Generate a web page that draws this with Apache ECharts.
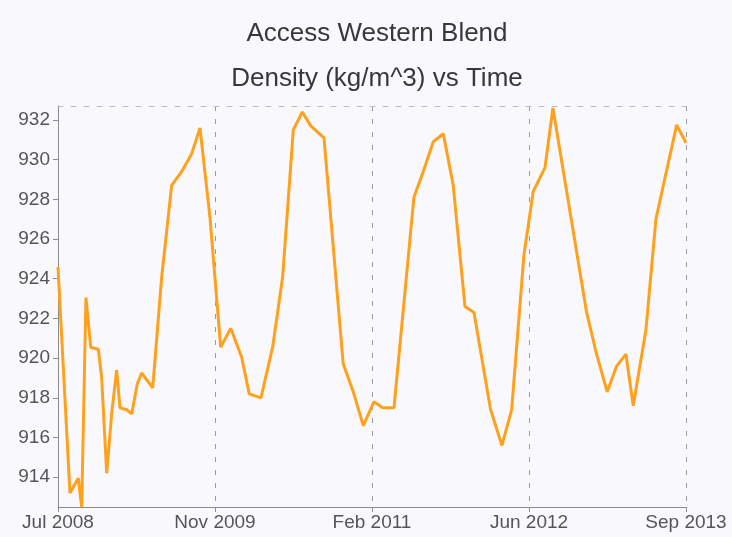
<!DOCTYPE html>
<html>
<head>
<meta charset="utf-8">
<script src="https://cdn.jsdelivr.net/npm/echarts@6/dist/echarts.min.js"></script>
<style>
html,body{margin:0;padding:0;background:#f9f9fd;}
#c{width:732px;height:537px;}
</style>
</head>
<body>
<div id="c"></div>
<script>
// Months elapsed since Jul 2008 (fractional: early samples are sub-monthly)
const monthsSinceJul2008 = [0.0, 1.18, 2.0, 2.34, 2.76, 3.23, 3.98, 4.31, 4.81, 5.3, 5.79, 6.12, 6.78, 7.28, 7.83, 8.26, 9.35, 10.24, 11.22, 12.21, 13.2, 14.02, 15.0, 16.06, 17.05, 18.13, 18.88, 20.04, 21.19, 22.18, 23.23, 24.12, 24.95, 26.26, 28.16, 29.15, 30.14, 31.19, 32.05, 33.17, 35.14, 36.06, 37.05, 38.04, 39.02, 40.18, 41.07, 42.71, 43.83, 44.79, 46.0, 46.92, 48.08, 48.86, 52.19, 53.17, 54.22, 55.15, 56.07, 56.79, 58.04, 59.03, 61.08, 62.0];
// Density (kg/m^3)
const density = [924.6, 913.2, 913.95, 912.5, 923.05, 920.55, 920.45, 919.0, 914.2, 917.2, 919.4, 917.5, 917.4, 917.2, 918.7, 919.25, 918.5, 924.1, 928.7, 929.4, 930.3, 931.6, 927.1, 920.55, 921.5, 920.05, 918.2, 918.0, 920.55, 924.1, 931.5, 932.4, 931.7, 931.1, 919.7, 918.3, 916.6, 917.8, 917.5, 917.5, 928.1, 929.4, 930.9, 931.3, 928.7, 922.6, 922.3, 917.4, 915.6, 917.4, 925.2, 928.4, 929.6, 932.6, 922.3, 920.2, 918.3, 919.6, 920.2, 917.6, 921.4, 927.0, 931.75, 930.85];
const xTickLabels = ['Jul 2008', 'Nov 2009', 'Feb 2011', 'Jun 2012', 'Sep 2013'];
const xTickStep = 15.5;
const yTicks = [914, 916, 918, 920, 922, 924, 926, 928, 930, 932];
const titleText = 'Access Western Blend';
const subtitleText = 'Density (kg/m^3) vs Time';

const FONT = '"Liberation Sans", Arial, Helvetica, sans-serif';
const chart = echarts.init(document.getElementById('c'), null, {renderer: 'canvas'});
const seriesData = monthsSinceJul2008.map((m, i) => [m, density[i]]);
const xMax = xTickStep * (xTickLabels.length - 1);

chart.setOption({
  animation: false,
  backgroundColor: '#f9f9fd',
  title: {
    text: titleText + '\n' + subtitleText,
    left: 372,
    top: 6,
    textAlign: 'center',
    textStyle: {fontFamily: FONT, fontSize: 26, fontWeight: 'normal', color: '#383838', lineHeight: 45}
  },
  grid: {left: 58, right: 46, top: 106, bottom: 30, containLabel: false},
  xAxis: [{
    type: 'value',
    min: 0,
    max: xMax,
    interval: xTickStep,
    axisLine: {show: true, lineStyle: {color: '#8c8c8c', width: 1}},
    axisTick: {show: true, length: 5, lineStyle: {color: '#8c8c8c'}},
    axisLabel: {
      margin: 6,
      fontFamily: FONT, fontSize: 19, color: '#555',
      formatter: v => xTickLabels[Math.round(v / xTickStep)] || ''
    },
    splitLine: {show: true, showMinLine: false, lineStyle: {color: '#9a9a9a', type: [5, 8], width: 1}}
  }, {
    type: 'value',
    position: 'top',
    min: 0,
    max: xMax,
    interval: xTickStep,
    axisLine: {show: true, lineStyle: {color: '#bdbdbd', type: [5, 8], width: 1}},
    axisTick: {show: false},
    axisLabel: {show: false},
    splitLine: {show: false}
  }],
  yAxis: {
    type: 'value',
    min: 'dataMin',
    max: 932.7,
    interval: 2,
    axisLine: {show: true, lineStyle: {color: '#8c8c8c', width: 1}},
    axisTick: {show: true, length: 5, customValues: yTicks, lineStyle: {color: '#8c8c8c'}},
    axisLabel: {
      margin: 8,
      customValues: yTicks,
      fontFamily: FONT, fontSize: 19, color: '#555',
      formatter: v => String(Math.round(v))
    },
    splitLine: {show: false}
  },
  series: [{
    type: 'line',
    xAxisIndex: 0,
    data: seriesData,
    symbol: 'none',
    lineStyle: {color: '#ffa11c', width: 3},
    itemStyle: {color: '#ffa11c'}
  }]
});
</script>
</body>
</html>
